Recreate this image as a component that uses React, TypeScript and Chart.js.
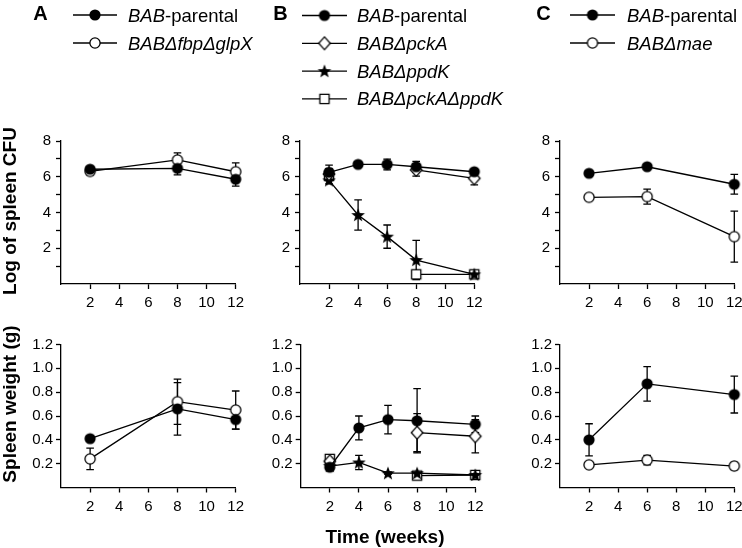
import React, { useEffect, useRef } from 'react';
import { Chart, registerables } from 'chart.js';

Chart.register(...registerables);

const W = 742;
const H = 548;
const FONT = "'Liberation Sans', Arial, Helvetica, sans-serif";

// ---------------- data ----------------
const weeksA = [2, 8, 12];
const cfuA_parental = [6.42, 6.47, 5.86];
const cfuA_parental_err = [0.1, 0.37, 0.38];
const cfuA_fbpglpX = [6.3, 6.94, 6.28];
const cfuA_fbpglpX_err = [0.2, 0.4, 0.5];
const wtA_parental = [0.41, 0.66, 0.57];
const wtA_parental_err = [0.02, 0.22, 0.08];
const wtA_fbpglpX = [0.24, 0.72, 0.65];
const wtA_fbpglpX_err = [0.09, 0.19, 0.16];

const weeksB = [2, 4, 6, 8, 12];
const cfuB_parental = [6.25, 6.69, 6.69, 6.56, 6.28];
const cfuB_parental_err = [0.4, 0.15, 0.3, 0.3, 0.1];
const cfuB_pckA = [6.15, null, null, 6.38, 5.91];
const cfuB_pckA_err = [0.3, 0, 0, 0.35, 0.37];
const cfuB_ppdK = [5.8, 3.86, 2.65, 1.34, 0.54];
const cfuB_ppdK_err = [0.2, 0.85, 0.65, 1.1, 0.1];
const cfuB_pckAppdK = [6.05, null, null, 0.54, 0.54];
const cfuB_pckAppdK_err = [0.2, 0, 0, 0.2, 0];
const wtB_parental = [0.17, 0.5, 0.57, 0.56, 0.53];
const wtB_parental_err = [0.02, 0.1, 0.12, 0.27, 0.07];
const wtB_pckA = [0.22, null, null, 0.46, 0.43];
const wtB_pckA_err = [0.02, 0, 0, 0.16, 0.14];
const wtB_ppdK = [0.18, 0.21, 0.12, 0.12, 0.105];
const wtB_ppdK_err = [0.02, 0.06, 0.01, 0.01, 0.01];
const wtB_pckAppdK = [0.24, null, null, 0.1, 0.105];
const wtB_pckAppdK_err = [0.03, 0, 0, 0.01, 0.01];

const weeksC = [2, 6, 12];
const cfuC_parental = [6.19, 6.56, 5.58];
const cfuC_parental_err = [0.1, 0.1, 0.55];
const cfuC_mae = [4.85, 4.89, 2.65];
const cfuC_mae_err = [0.1, 0.42, 1.43];
const wtC_parental = [0.4, 0.87, 0.78];
const wtC_parental_err = [0.135, 0.145, 0.155];
const wtC_mae = [0.19, 0.23, 0.18];
const wtC_mae_err = [0.02, 0.04, 0.03];

const cfuTicks = [2, 4, 6, 8];
const weightTicks = [0.2, 0.4, 0.6, 0.8, 1.0, 1.2];
const timeTicks = [2, 4, 6, 8, 10, 12];

const labelParental: [string, boolean][] = [['BAB', true], ['-parental', false]];
const labelFbpGlpX: [string, boolean][] = [['BABΔfbpΔglpX', true]];
const labelPckA: [string, boolean][] = [['BABΔpckA', true]];
const labelPpdK: [string, boolean][] = [['BABΔppdK', true]];
const labelPckAPpdK: [string, boolean][] = [['BABΔpckAΔppdK', true]];
const labelMae: [string, boolean][] = [['BABΔmae', true]];

// ---------------- markers ----------------
const markerCache: Record<string, HTMLCanvasElement> = {};
function marker(kind: string): HTMLCanvasElement {
  if (markerCache[kind]) return markerCache[kind];
  const s = 20;
  const c = document.createElement('canvas');
  c.width = s;
  c.height = s;
  const g = c.getContext('2d')!;
  const m = s / 2;
  g.lineWidth = 1.3;
  g.strokeStyle = '#000';
  g.fillStyle = '#000';
  g.beginPath();
  if (kind === 'filled') {
    g.arc(m, m, 5.6, 0, Math.PI * 2);
    g.fill();
  } else if (kind === 'open') {
    g.arc(m, m, 5.1, 0, Math.PI * 2);
    g.fillStyle = '#fff';
    g.fill();
    g.stroke();
  } else if (kind === 'diamond') {
    g.moveTo(m, m - 6.4);
    g.lineTo(m + 5.8, m);
    g.lineTo(m, m + 6.4);
    g.lineTo(m - 5.8, m);
    g.closePath();
    g.fillStyle = '#fff';
    g.fill();
    g.stroke();
  } else if (kind === 'square') {
    g.rect(m - 4.6, m - 4.6, 9.2, 9.2);
    g.fillStyle = '#fff';
    g.fill();
    g.stroke();
  } else if (kind === 'star') {
    const R = 7.2, r = 3;
    for (let i = 0; i < 10; i++) {
      const a = -Math.PI / 2 + (i * Math.PI) / 5;
      const rr = i % 2 === 0 ? R : r;
      const px = m + rr * Math.cos(a);
      const py = m + 0.5 + rr * Math.sin(a);
      if (i === 0) g.moveTo(px, py);
      else g.lineTo(px, py);
    }
    g.closePath();
    g.fill();
  }
  markerCache[kind] = c;
  return c;
}

// ---------------- plugins ----------------
const errorBarPlugin = {
  id: 'errorBars',
  beforeDatasetsDraw(chart: any) {
    const ctx = chart.ctx;
    const xs = chart.scales.x;
    const ys = chart.scales.y;
    ctx.save();
    ctx.strokeStyle = '#000';
    ctx.lineWidth = 1.3;
    chart.data.datasets.forEach((ds: any) => {
      if (!ds.errors) return;
      ds.data.forEach((p: any, j: number) => {
        const e = ds.errors[j];
        if (p.y == null || !e) return;
        const x = xs.getPixelForValue(p.x);
        const yLo = ys.getPixelForValue(p.y - e);
        const yHi = ys.getPixelForValue(p.y + e);
        const cw = 3.8;
        ctx.beginPath();
        ctx.moveTo(x, yLo);
        ctx.lineTo(x, yHi);
        ctx.moveTo(x - cw, yLo);
        ctx.lineTo(x + cw, yLo);
        ctx.moveTo(x - cw, yHi);
        ctx.lineTo(x + cw, yHi);
        ctx.stroke();
      });
    });
    ctx.restore();
  },
};

function legendPlugin(leg: any) {
  return {
    id: 'panelLegend',
    afterDraw(chart: any) {
      const ctx = chart.ctx;
      ctx.save();
      leg.items.forEach((it: any, i: number) => {
        const y = leg.y0 + i * leg.dy;
        ctx.strokeStyle = '#000';
        ctx.lineWidth = 1.3;
        ctx.beginPath();
        ctx.moveTo(leg.x0, y);
        ctx.lineTo(leg.x1, y);
        ctx.stroke();
        const m = marker(it.marker);
        ctx.drawImage(m, (leg.x0 + leg.x1) / 2 - m.width / 2, y - m.height / 2);
        let x = leg.tx;
        ctx.fillStyle = '#000';
        ctx.textBaseline = 'alphabetic';
        it.parts.forEach(([t, italic]: [string, boolean]) => {
          ctx.font = `${italic ? 'italic ' : ''}18.5px ${FONT}`;
          ctx.fillText(t, x, y + 6.5);
          x += ctx.measureText(t).width;
        });
      });
      ctx.restore();
    },
  };
}

const decorPlugin = {
  id: 'decor',
  afterDraw(chart: any) {
    const ctx = chart.ctx;
    ctx.save();
    ctx.fillStyle = '#000';
    ctx.textBaseline = 'alphabetic';
    ctx.textAlign = 'center';
    ctx.font = `bold 20px ${FONT}`;
    ctx.fillText('A', 40.5, 20);
    ctx.fillText('B', 280.5, 20);
    ctx.fillText('C', 543.5, 20);
    ctx.font = `bold 19px ${FONT}`;
    ctx.fillText('Time (weeks)', 385, 543);
    const vtext = (t: string, x: number, y: number) => {
      ctx.save();
      ctx.translate(x, y);
      ctx.rotate(-Math.PI / 2);
      ctx.fillText(t, 0, 0);
      ctx.restore();
    };
    vtext('Log of spleen CFU', 16, 211);
    vtext('Spleen weight (g)', 16, 404);
    ctx.restore();
  },
};

// ---------------- panels ----------------
type Series = { label: [string, boolean][]; marker: string; x: number[]; y: (number | null)[]; err: number[] };
type PanelSpec = {
  area: { left: number; top: number; right: number; bottom: number };
  kind: 'cfu' | 'weight';
  series: Series[];
  legend?: any;
  decor?: boolean;
};

const YW = 40;
const XH = 30;

const panels: PanelSpec[] = [
  {
    area: { left: 61, top: 141, right: 235.7, bottom: 284 },
    kind: 'cfu',
    decor: true,
    series: [
      { label: labelParental, marker: 'filled', x: weeksA, y: cfuA_parental, err: cfuA_parental_err },
      { label: labelFbpGlpX, marker: 'open', x: weeksA, y: cfuA_fbpglpX, err: cfuA_fbpglpX_err },
    ],
    legend: { x0: 73, x1: 117, tx: 128, y0: 15, dy: 28 },
  },
  {
    area: { left: 300, top: 141, right: 474.3, bottom: 284 },
    kind: 'cfu',
    series: [
      { label: labelParental, marker: 'filled', x: weeksB, y: cfuB_parental, err: cfuB_parental_err },
      { label: labelPckA, marker: 'diamond', x: weeksB, y: cfuB_pckA, err: cfuB_pckA_err },
      { label: labelPpdK, marker: 'star', x: weeksB, y: cfuB_ppdK, err: cfuB_ppdK_err },
      { label: labelPckAPpdK, marker: 'square', x: weeksB, y: cfuB_pckAppdK, err: cfuB_pckAppdK_err },
    ],
    legend: { x0: 302, x1: 347, tx: 357, y0: 15.5, dy: 27.8 },
  },
  {
    area: { left: 560, top: 141, right: 734.3, bottom: 284 },
    kind: 'cfu',
    series: [
      { label: labelParental, marker: 'filled', x: weeksC, y: cfuC_parental, err: cfuC_parental_err },
      { label: labelMae, marker: 'open', x: weeksC, y: cfuC_mae, err: cfuC_mae_err },
    ],
    legend: { x0: 570, x1: 615, tx: 627, y0: 15, dy: 28 },
  },
  {
    area: { left: 61, top: 344.5, right: 235.7, bottom: 487.5 },
    kind: 'weight',
    series: [
      { label: labelParental, marker: 'filled', x: weeksA, y: wtA_parental, err: wtA_parental_err },
      { label: labelFbpGlpX, marker: 'open', x: weeksA, y: wtA_fbpglpX, err: wtA_fbpglpX_err },
    ],
  },
  {
    area: { left: 300.7, top: 344.5, right: 475.3, bottom: 487.5 },
    kind: 'weight',
    series: [
      { label: labelParental, marker: 'filled', x: weeksB, y: wtB_parental, err: wtB_parental_err },
      { label: labelPckA, marker: 'diamond', x: weeksB, y: wtB_pckA, err: wtB_pckA_err },
      { label: labelPpdK, marker: 'star', x: weeksB, y: wtB_ppdK, err: wtB_ppdK_err },
      { label: labelPckAPpdK, marker: 'square', x: weeksB, y: wtB_pckAppdK, err: wtB_pckAppdK_err },
    ],
  },
  {
    area: { left: 560, top: 344.5, right: 734.3, bottom: 487.5 },
    kind: 'weight',
    series: [
      { label: labelParental, marker: 'filled', x: weeksC, y: wtC_parental, err: wtC_parental_err },
      { label: labelMae, marker: 'open', x: weeksC, y: wtC_mae, err: wtC_mae_err },
    ],
  },
];

function buildConfig(spec: PanelSpec): any {
  const isCfu = spec.kind === 'cfu';
  const yTickLabels = isCfu ? cfuTicks : weightTicks;
  const near = (a: number, b: number) => Math.abs(a - b) < 1e-6;
  const plugins: any[] = [errorBarPlugin];
  if (spec.legend) {
    plugins.push(
      legendPlugin({
        ...spec.legend,
        items: spec.series.map((s) => ({ marker: s.marker, parts: s.label })),
      })
    );
  }
  if (spec.decor) plugins.push(decorPlugin);
  return {
    type: 'line',
    data: {
      datasets: spec.series.map((s) => ({
        label: s.label.map((p) => p[0]).join(''),
        data: s.x.map((xv, i) => ({ x: xv, y: s.y[i] })),
        errors: s.err,
        borderColor: '#000',
        borderWidth: 1.3,
        pointStyle: marker(s.marker),
        pointRadius: 6,
        pointHoverRadius: 6,
        showLine: true,
        spanGaps: false,
        fill: false,
        tension: 0,
        clip: false,
      })),
    },
    options: {
      animation: false,
      responsive: false,
      devicePixelRatio: 1,
      events: [],
      layout: {
        padding: {
          left: spec.area.left - YW,
          top: spec.area.top,
          right: W - spec.area.right,
          bottom: H - spec.area.bottom - XH,
        },
      },
      plugins: { legend: { display: false }, tooltip: { enabled: false }, title: { display: false } },
      scales: {
        x: {
          type: 'linear',
          min: 0,
          max: 12,
          afterFit: (sc: any) => {
            sc.height = XH;
            sc.paddingLeft = 0;
            sc.paddingRight = 0;
          },
          ticks: {
            stepSize: 2,
            autoSkip: false,
            maxRotation: 0,
            padding: 5,
            color: '#000',
            font: { family: FONT, size: 15 },
            callback: (v: number) => (timeTicks.some((t) => near(t, v)) ? String(v) : ''),
          },
          grid: {
            display: true,
            drawOnChartArea: false,
            drawTicks: true,
            tickLength: 5,
            tickWidth: 1.3,
            tickColor: (c: any) => (c.tick && near(c.tick.value, 0) ? 'rgba(0,0,0,0)' : '#000'),
          },
          border: { display: true, color: '#000', width: 1.3 },
        },
        y: {
          type: 'linear',
          min: 0,
          max: isCfu ? 8 : 1.2,
          afterFit: (sc: any) => {
            sc.width = YW;
            sc.paddingTop = 0;
            sc.paddingBottom = 0;
          },
          ticks: {
            stepSize: isCfu ? 1 : 0.2,
            autoSkip: false,
            padding: isCfu ? 5 : 3,
            color: '#000',
            font: { family: FONT, size: 15 },
            callback: (v: number) => {
              const hit = yTickLabels.find((t) => near(t, v));
              if (hit === undefined) return '';
              return isCfu ? String(hit) : hit.toFixed(1);
            },
          },
          grid: {
            display: true,
            drawOnChartArea: false,
            drawTicks: true,
            tickLength: 5,
            tickWidth: 1.3,
            tickColor: (c: any) => (c.tick && near(c.tick.value, 0) ? 'rgba(0,0,0,0)' : '#000'),
          },
          border: { display: true, color: '#000', width: 1.3 },
        },
      },
    },
    plugins,
  };
}

function Panel({ spec }: { spec: PanelSpec }) {
  const ref = useRef<HTMLCanvasElement>(null);
  useEffect(() => {
    const chart = new Chart(ref.current as HTMLCanvasElement, buildConfig(spec));
    return () => chart.destroy();
  }, [spec]);
  return (
    <canvas
      ref={ref}
      width={W}
      height={H}
      style={{ position: 'absolute', left: 0, top: 0, width: W, height: H }}
    />
  );
}

export default function App() {
  return (
    <div
      style={{
        position: 'absolute',
        left: 0,
        top: 0,
        width: W,
        height: H,
        background: '#fff',
        overflow: 'hidden',
      }}
    >
      {panels.map((p, i) => (
        <Panel key={i} spec={p} />
      ))}
    </div>
  );
}
